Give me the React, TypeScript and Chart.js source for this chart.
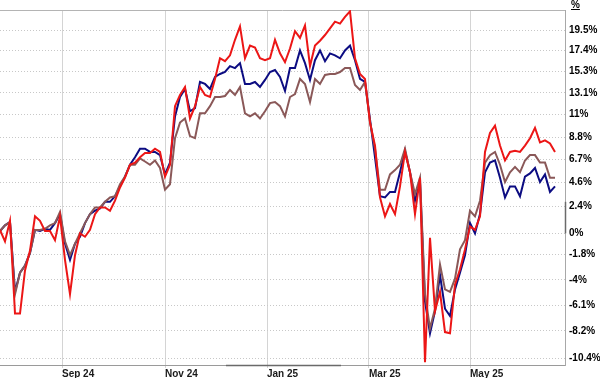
import React, { useEffect, useRef } from 'react';
import { Chart, registerables } from 'chart.js';

Chart.register(...registerables);

// Percent change series, one value every sample step (left to right)
const redSeries = [
  0.3, -0.7, 1.1, -6.8, -6.8, -3.2, -1.5, 1.5, 1.1, 0.2,
  0.2, -0.6, 1.5, -2.3, -5.2, -1.9, 0, -0.3, 0.3, 1.7,
  2.3, 2.3, 2.0, 2.9, 4.1, 5.0, 6.2, 6.4, 6.9, 7.3,
  7.3, 7.7, 7.4, 5.1, 6.2, 11.8, 12.9, 13.7, 10.6, 11.8,
  13.7, 12.9, 12.7, 14.5, 16.6, 16.3, 16.9, 18.5, 19.9, 16.6,
  17.9, 17.7, 16.6, 16.4, 16.6, 18.5, 17.1, 16.2, 17.6, 19.4,
  18.7, 20.0, 15.8, 17.9, 18.4, 19.0, 19.7, 20.4, 20.2, 20.9,
  21.5, 16.6, 15.0, 14.5, 10.2, 8.0, 3.2, 1.5, 2.6, 1.7,
  4.2, 7.4, 5.5, 1.7, 5.0, -10.7, -0.4, -6.6, -5.0, -8.3,
  -8.4, -4.4, -3.1, -1.4, 0.6, 0.3, 1.5, 7.4, 9.2, 9.9,
  8.0, 6.6, 7.4, 7.5, 7.4, 8.0, 8.7, 9.7, 8.3, 8.5,
  8.2, 7.4,
];

const navySeries = [
  0.2, 0.7, 1.0, -5.0, -3.4, -2.8, -1.7, 0.3, 0.2, 0.4,
  0.3, 0.9, 1.7, -0.9, -2.3, -0.9, -0.3, 0.9, 1.7, 2.0,
  2.2, 2.8, 2.8, 3.3, 4.2, 5.1, 6.2, 6.9, 7.7, 7.7,
  7.4, 7.4, 7.1, 5.3, 6.4, 10.8, 12.7, 13.5, 11.3, 11.6,
  14.2, 14.0, 13.5, 14.7, 15.0, 15.2, 15.8, 15.6, 16.1, 14.0,
  14.0, 14.2, 13.7, 14.4, 15.2, 15.4, 14.7, 13.3, 15.6, 15.6,
  17.4, 16.1, 14.4, 16.4, 17.4, 16.3, 17.1, 16.9, 16.6, 17.4,
  17.9, 16.4, 14.5, 14.2, 10.5, 6.9, 3.3, 3.2, 3.7, 3.7,
  5.5, 7.5, 5.5, 2.9, 4.6, -5.8, -8.4, -6.6, -3.6, -6.4,
  -7.0, -4.8, -3.4, -1.9, 0.9, 0, 1.7, 5.5, 6.4, 6.6,
  5.0, 3.2, 4.2, 4.2, 3.3, 5.1, 5.4, 5.9, 4.6, 5.3,
  3.7, 4.2,
];

const brownSeries = [
  0.2, 0.7, 1.0, -5.2, -3.4, -2.8, -1.7, 0.3, 0.3, 0.4,
  0.7, 0.9, 1.9, -0.7, -1.9, -0.9, 0, 0.9, 1.7, 2.3,
  2.3, 2.8, 3.2, 3.3, 4.4, 5.1, 6.2, 6.2, 6.8, 6.5,
  6.2, 6.6, 5.9, 3.9, 4.4, 8.7, 10.2, 10.6, 8.9, 8.7,
  11.1, 11.1, 11.8, 12.7, 12.7, 12.8, 13.4, 12.9, 13.7, 11.1,
  10.8, 11.1, 10.6, 11.3, 12.1, 12.2, 11.8, 10.8, 12.7, 13.0,
  14.5, 14.0, 12.2, 14.5, 14.0, 14.9, 15.0, 15.0, 15.2, 15.6,
  15.6, 13.9, 13.4, 14.2, 10.3, 7.7, 3.9, 3.9, 5.3, 5.7,
  6.2, 7.7, 5.5, 3.5, 5.0, -5.2, -8.0, -6.4, -2.7, -4.8,
  -5.0, -3.9, -1.4, -0.6, 2.0, 1.5, 2.9, 6.4, 7.1, 7.4,
  6.2, 4.6, 5.5, 6.0, 5.5, 6.6, 7.1, 7.1, 6.4, 6.4,
  5.0, 5.0,
];

// x axis (sample index) month ticks
const xMin = 0;
const xMax = 113;
const xTickPositions = [12.4, 33, 53.4, 73.8, 94];
const xTickLabels = ['Sep 24', 'Nov 24', 'Jan 25', 'Mar 25', 'May 25'];

// y axis (percent, log-scaled price relative)
const yMinPct = -10.91;
const yMaxPct = 21.64;
const yTickValues = [19.5, 17.4, 15.3, 13.1, 11, 8.8, 6.7, 4.6, 2.4, 0, -1.8, -4, -6.1, -8.2, -10.4];
const yTickLabels = ['19.5%', '17.4%', '15.3%', '13.1%', '11%', '8.8%', '6.7%', '4.6%', '2.4%', '0%', '-1.8%', '-4%', '-6.1%', '-8.2%', '-10.4%'];

// visible-range indicators on the axes (x in sample index, y in percent)
const xRangeMarker = [45.2, 68.2];
const yRangeMarker = [0, 2.8];

const FONT = 'Liberation Sans, Arial, Helvetica, sans-serif';

const toPoints = (arr: number[]) => arr.map((v, i) => ({ x: i, y: 100 + v }));

const framePlugin = {
  id: 'frameTop',
  beforeDatasetsDraw(chart: any) {
    const { ctx, chartArea: a, scales } = chart;
    ctx.save();
    ctx.strokeStyle = '#b4b4b4';
    ctx.lineWidth = 1;
    ctx.beginPath();
    ctx.moveTo(a.left, a.top + 0.5);
    ctx.lineTo(a.right, a.top + 0.5);
    ctx.stroke();
    ctx.strokeStyle = '#6a6a6a';
    ctx.lineWidth = 1.5;
    ctx.beginPath();
    ctx.moveTo(scales.x.getPixelForValue(xRangeMarker[0]), a.bottom + 0.5);
    ctx.lineTo(scales.x.getPixelForValue(xRangeMarker[1]), a.bottom + 0.5);
    ctx.stroke();
    ctx.beginPath();
    ctx.moveTo(a.right + 0.5, scales.y.getPixelForValue(100 + yRangeMarker[0]));
    ctx.lineTo(a.right + 0.5, scales.y.getPixelForValue(100 + yRangeMarker[1]));
    ctx.stroke();
    ctx.restore();
  },
};

export default function App() {
  const canvasRef = useRef<HTMLCanvasElement | null>(null);

  useEffect(() => {
    document.body.style.margin = '0';
    const canvas = canvasRef.current;
    if (!canvas) return;
    const chart = new Chart(canvas, {
      type: 'line',
      data: {
        datasets: [
          { label: 'red', data: toPoints(redSeries), borderColor: '#ec1616', borderWidth: 2, pointRadius: 0, tension: 0 },
          { label: 'brown', data: toPoints(brownSeries), borderColor: '#8a5858', borderWidth: 2, pointRadius: 0, tension: 0 },
          { label: 'navy', data: toPoints(navySeries), borderColor: '#0c0c82', borderWidth: 2, pointRadius: 0, tension: 0 },
        ],
      },
      options: {
        animation: false,
        responsive: false,
        events: [],
        layout: { padding: { top: 1, left: 0, right: 0, bottom: 0 } },
        plugins: { legend: { display: false }, tooltip: { enabled: false } },
        scales: {
          x: {
            type: 'linear',
            min: xMin,
            max: xMax,
            bounds: 'data',
            afterBuildTicks: (s: any) => {
              s.ticks = xTickPositions.map((v) => ({ value: v }));
            },
            afterFit: (s: any) => {
              s.height = 13;
            },
            ticks: {
              callback: (_v: any, i: number) => xTickLabels[i],
              autoSkip: false,
              maxRotation: 0,
              align: 'start',
              padding: 0,
              color: '#1a1a1a',
              font: { family: FONT, size: 10, weight: 'bold' },
            },
            grid: { color: '#d4d4d4', lineWidth: 1, drawTicks: true, tickLength: 3, tickColor: '#d4d4d4' },
            border: { display: true, color: '#9a9a9a', width: 1 },
          },
          y: {
            type: 'logarithmic',
            position: 'right',
            min: 100 + yMinPct,
            max: 100 + yMaxPct,
            bounds: 'data',
            afterBuildTicks: (s: any) => {
              s.ticks = yTickValues.map((v) => ({ value: 100 + v }));
            },
            afterFit: (s: any) => {
              s.width = 35;
            },
            ticks: {
              callback: (_v: any, i: number) => yTickLabels[i],
              autoSkip: false,
              padding: 4,
              color: '#000',
              font: { family: FONT, size: 10, weight: 'bold' },
            },
            grid: { color: '#c8c8c8', lineWidth: 1, drawTicks: false },
            border: { display: true, color: '#a8a8a8', width: 1, dash: [1, 2] },
          },
        },
      },
      plugins: [framePlugin],
    } as any);
    return () => chart.destroy();
  }, []);

  return (
    <div style={{ position: 'relative', width: 600, height: 378, background: '#fff' }}>
      <canvas ref={canvasRef} width={600} height={378} style={{ display: 'block' }} />
      <span
        style={{
          position: 'absolute',
          left: 571,
          top: -1,
          fontFamily: FONT,
          fontWeight: 'bold',
          fontSize: 10,
          textDecoration: 'underline',
          color: '#000',
        }}
      >
        %
      </span>
    </div>
  );
}
